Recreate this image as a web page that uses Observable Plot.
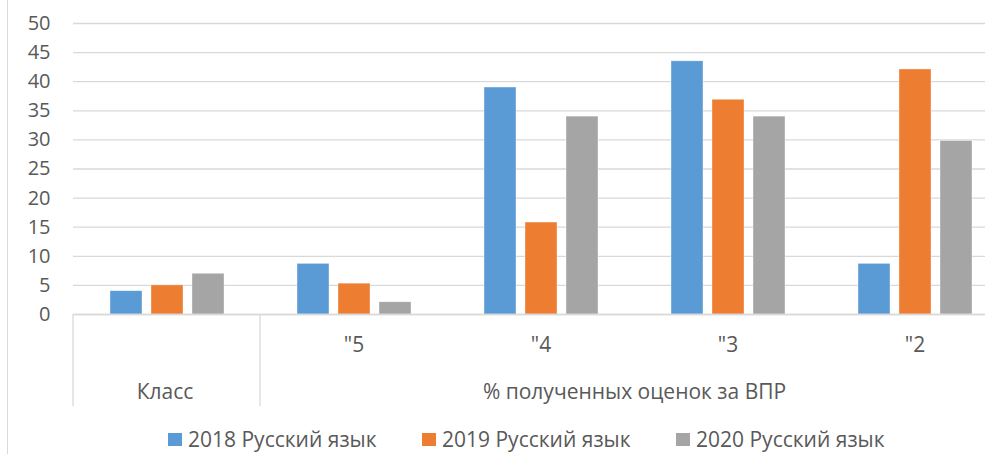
<!DOCTYPE html>
<html><head><meta charset="utf-8">
<script src="https://cdn.jsdelivr.net/npm/d3@7"></script>
<script src="https://cdn.jsdelivr.net/npm/@observablehq/plot@0.6"></script>
<style>
html,body{margin:0;padding:0;background:#fff;overflow:hidden;width:985px;height:454px;}
#wrap{position:relative;width:985px;height:454px;overflow:hidden;font-family:"Open Sans", sans-serif;color:#595959;}
#border{position:absolute;left:7px;top:0;bottom:0;border-left:1px solid #d9d9d9;}
#chart{position:absolute;left:0;top:0;}
#chart svg{max-width:none !important;}
#legend{position:absolute;left:168px;top:428px;display:flex;font-size:21px;line-height:22px;white-space:nowrap;}
.item{display:flex;align-items:center;width:254px;}
.sw{width:14px;height:13px;margin-right:6px;flex:none;}
</style></head>
<body><div id="wrap"><div id="border"></div><div id="chart"></div><div id="legend"></div></div>
<script>
const categories = ["Класс", "\"5", "\"4", "\"3", "\"2"];
const innerLabels = ["", "\"5", "\"4", "\"3", "\"2"];
const groupLabels = ["Класс", "% полученных оценок за ВПР"];
const series = ["2018 Русский язык", "2019 Русский язык", "2020 Русский язык"];
const values2018 = [4.0, 8.7, 39.0, 43.5, 8.7];
const values2019 = [5.0, 5.3, 15.8, 36.9, 42.1];
const values2020 = [7.0, 2.1, 34.0, 34.0, 29.8];
const yTicks = [0, 5, 10, 15, 20, 25, 30, 35, 40, 45, 50];
const colors = ["#5b9bd5", "#ed7d31", "#a5a5a5"];

const allValues = [values2018, values2019, values2020];
const rows = [];
categories.forEach((c, i) => series.forEach((s, j) => rows.push({category: c, series: s, value: allValues[j][i]})));

const font = "'Open Sans', sans-serif";
const plot = Plot.plot({
  width: 1008, height: 420,
  marginLeft: 72, marginRight: 0, marginTop: 23, marginBottom: 106,
  style: {fontFamily: font, fontSize: "21px", color: "#595959", background: "transparent", overflow: "visible", maxWidth: "none"},
  fx: {domain: categories, padding: 0, label: null, axis: null},
  x: {domain: series, paddingInner: 0.22, paddingOuter: 0.89, axis: null},
  y: {domain: [0, 50], label: null, axis: null},
  color: {domain: series, range: colors},
  marks: [
    Plot.gridY(yTicks, {stroke: "#d9d9d9", strokeOpacity: 1, strokeWidth: 1.3}),
    Plot.axisY(yTicks, {anchor: "left", tickSize: 0, tickPadding: 23, label: null, fill: "#595959", fontSize: 20}),
    Plot.barY(rows, {fx: "category", x: "series", y: "value", fill: "series", stroke: "white", strokeWidth: 0.6, strokeOpacity: 0.6}),
    Plot.ruleY([0], {stroke: "#d9d9d9", strokeWidth: 1.5}),
    Plot.axisFx({anchor: "bottom", tickSize: 0, tickPadding: 23, label: null, fill: "#595959",
      tickFormat: d => innerLabels[categories.indexOf(d)]}),
    Plot.text([groupLabels[0]], {fx: () => categories[0], text: d => d, frameAnchor: "bottom", dy: 78, dx: -2, lineAnchor: "middle", fill: "#595959"}),
    Plot.text([groupLabels[1]], {fx: () => categories[2], text: d => d, frameAnchor: "bottom-right", textAnchor: "middle", dy: 78, lineAnchor: "middle", fill: "#595959"})
  ]
});
plot.style.maxWidth = "none";

// multi-level category separators, positioned from Plot's fx and y scales
const fx = plot.scale("fx"), ys = plot.scale("y");
const y0 = ys.apply(0);
const seps = [fx.apply(categories[0]), fx.apply(categories[1]), fx.apply(categories[4]) + fx.bandwidth];
d3.select(plot).append("g").selectAll("line").data(seps).join("line")
  .attr("x1", d => d).attr("x2", d => d).attr("y1", y0).attr("y2", y0 + 92)
  .attr("stroke", "#d9d9d9").attr("stroke-width", 1.3);

document.getElementById("chart").appendChild(plot);

const legend = d3.select("#legend");
series.forEach((s, i) => {
  const it = legend.append("div").attr("class", "item");
  it.append("div").attr("class", "sw").style("background", colors[i]);
  it.append("span").text(s);
});
</script>
</body></html>
